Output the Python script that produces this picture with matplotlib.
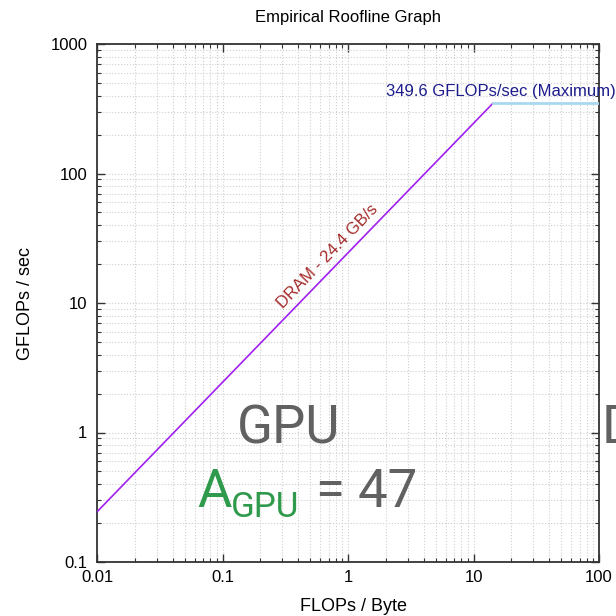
import numpy as np
import matplotlib
matplotlib.use("Agg")
import matplotlib.pyplot as plt

# ---- data ----
title = "Empirical Roofline Graph"
x_label = "FLOPs / Byte"
y_label = "GFLOPs / sec"
dram_bw = 24.4          # GB/s
peak_gflops = 349.6     # GFLOPs/sec
x_min, x_max = 0.01, 100
y_min, y_max = 0.1, 1000
x_ticks = [0.01, 0.1, 1, 10, 100]
x_tick_labels = ["0.01", "0.1", "1", "10", "100"]
y_ticks = [0.1, 1, 10, 100, 1000]
y_tick_labels = ["0.1", "1", "10", "100", "1000"]
dram_label = "DRAM - 24.4 GB/s"
peak_label = "349.6 GFLOPs/sec (Maximum)"
gpu_label = "GPU"
a_value = "47"

plt.rcParams['font.family'] = ['Liberation Sans', 'DejaVu Sans']

fig = plt.figure(figsize=(6.16, 6.16), dpi=100)
ax = fig.add_axes([97/616, 1-562/616, (599-97)/616, (562-44)/616])
ax.set_xscale('log')
ax.set_yscale('log')
ax.set_xlim(x_min, x_max)
ax.set_ylim(y_min, y_max)

ridge = peak_gflops / dram_bw
ax.plot([x_min, ridge], [dram_bw * x_min, peak_gflops], color='#a020f0', lw=1.2, zorder=3)
ax.plot([ridge, x_max], [peak_gflops, peak_gflops], color='#a8d8f0', lw=2.0, zorder=3)

ax.grid(True, which='both', color='#cfcfcf', linestyle=':', lw=0.8)
ax.set_xticks(x_ticks)
ax.set_xticklabels(x_tick_labels)
ax.set_yticks(y_ticks)
ax.set_yticklabels(y_tick_labels)
ax.tick_params(which='both', direction='in', top=True, right=True, colors='#333333',
               labelcolor='black', labelsize=12)
ax.tick_params(which='major', length=6, width=1)
ax.tick_params(which='minor', length=3, width=0.8)
ax.tick_params(axis='x', pad=6)
ax.tick_params(axis='y', pad=7)
for s in ax.spines.values():
    s.set_color('#333333')
    s.set_linewidth(1.3)

ax.set_title(title, fontsize=12, pad=16)
ax.set_xlabel(x_label, fontsize=13, labelpad=9)
ax.set_ylabel(y_label, fontsize=13, labelpad=12)
ax.xaxis.set_label_coords(0.51, -0.07)

# labels
xd = 0.33
ax.annotate(dram_label, xy=(xd, dram_bw * xd), xytext=(-2, 3), textcoords='offset points',
            rotation=46, rotation_mode='anchor', ha='left', va='bottom',
            color='#a52a2a', fontsize=12)
ax.annotate(peak_label, xy=(2.0, peak_gflops), xytext=(0, 3), textcoords='offset points',
            ha='left', va='bottom', color='#1c1c8c', fontsize=12, annotation_clip=False)

gray = '#616161'
green = '#2f9a4c'
big = 38
fig.text(237/616, 1-443/616, gpu_label, fontsize=big, color=gray, family='Roboto', va='baseline')
fig.text(602/616, 1-443/616, "D", fontsize=big, color=gray, family='Roboto', va='baseline')
fig.text(197/616, 1-507/616, "A", fontsize=big, color=green, family='Roboto', va='baseline')
fig.text(231/616, 1-517/616, gpu_label, fontsize=big*0.66, color=green, family='Roboto', va='baseline')
fig.text(316/616, 1-507/616, "= " + a_value, fontsize=big, color=gray, family='Roboto', va='baseline')

fig.savefig("out.png", dpi=100)
